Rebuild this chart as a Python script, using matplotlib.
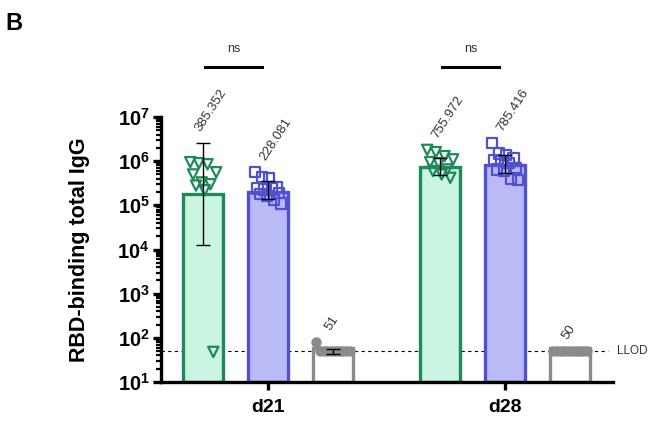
import numpy as np
import matplotlib
matplotlib.use("Agg")
import matplotlib.pyplot as plt
from matplotlib.ticker import LogLocator, FixedLocator, NullFormatter

plt.rcParams["font.family"] = ["Liberation Sans", "DejaVu Sans"]
plt.rcParams["mathtext.fontset"] = "custom"
plt.rcParams["mathtext.rm"] = "Liberation Sans"
plt.rcParams["mathtext.bf"] = "Liberation Sans:bold"

# data
days = ["d21", "d28"]
groups = ["green", "blue", "gray"]

bar_d21 = [1.8e5, 2.0e5, 50]
bar_d28 = [7.2e5, 8.1e5, 50]

err_lo_d21 = [1.26e4, 1.4e5, 44]
err_hi_d21 = [2.6e6, 3.5e5, 57]
err_lo_d28 = [4.8e5, 5.4e5, 50]
err_hi_d28 = [1.2e6, 1.4e6, 50]

green_d21 = [9.5e5, 9.0e5, 8.5e5, 5.6e5, 5.0e5, 3.3e5, 3.0e5, 2.8e5, 2.2e5, 48]
blue_d21 = [5.6e5, 4.4e5, 4.2e5, 2.6e5, 2.4e5, 2.3e5, 2.5e5, 1.9e5, 1.8e5, 1.6e5, 1.3e5, 1.1e5]
gray_d21 = [80, 50, 50, 50, 50, 50, 50, 50, 50, 50]
green_d28 = [1.8e6, 1.6e6, 1.3e6, 1.1e6, 9.5e5, 9.0e5, 6.5e5, 6.0e5, 5.0e5, 4.2e5]
blue_d28 = [2.6e6, 1.5e6, 1.4e6, 1.2e6, 1.05e6, 1.0e6, 9.0e5, 7.0e5, 6.5e5, 6.0e5, 4.0e5, 3.7e5]
gray_d28 = [50, 50, 50, 50, 50, 50, 50, 50, 50, 50]

labels_d21 = ["385.352", "228.081", "51"]
labels_d28 = ["755.972", "785.416", "50"]

llod = 50

# styles
edge = {"green": "#1e8a5c", "blue": "#5050d0", "gray": "#8a8a8a"}
fill = {"green": "#c9f5e2", "blue": "#b9baf6", "gray": "white"}
marker = {"green": "v", "blue": "s", "gray": "o"}

bar_w = 0.62
group_gap = 3.65
offsets = [-1, 0, 1]

fig = plt.figure(figsize=(6.72, 4.34), dpi=100)
ax = fig.add_axes([0.2396, 0.1198, 0.912 - 0.2396, 0.7304 - 0.1198])
ax.set_yscale("log")
ax.set_ylim(10, 1e7)
ax.set_xlim(-1.65, 5.31)

ax.axhline(llod, xmin=0, xmax=0.99, color="black", ls=(0, (3, 3)), lw=0.8, zorder=1)
ax.text(5.37, llod, "LLOD", fontsize=8.5, va="center", ha="left", color="#333333")

all_points = [[green_d21, blue_d21, gray_d21], [green_d28, blue_d28, gray_d28]]
all_bars = [bar_d21, bar_d28]
all_lo = [err_lo_d21, err_lo_d28]
all_hi = [err_hi_d21, err_hi_d28]
all_labels = [labels_d21, labels_d28]

for d in range(len(days)):
    base = d * group_gap
    for g, name in enumerate(groups):
        x = base + offsets[g]
        h = all_bars[d][g]
        ax.bar(x, h, width=bar_w, bottom=10, color=fill[name], edgecolor=edge[name],
               linewidth=2.4, zorder=2)
        pts = all_points[d][g]
        n = len(pts)
        half = 0.26 if name == "gray" else 0.2
        spread = np.linspace(-half, half, n)
        order = np.argsort(np.arange(n) % 3, kind="stable")
        xs = x + spread[order]
        if name == "gray":
            ax.scatter(xs, pts, s=42, marker="o", color=edge[name], zorder=3)
        else:
            ax.scatter(xs, pts, s=55, marker=marker[name], facecolors="none",
                       edgecolors=edge[name], linewidths=1.6, zorder=3)
        lo, hi = all_lo[d][g], all_hi[d][g]
        if hi > lo:
            ax.errorbar(x, h, yerr=[[h - lo], [hi - h]], fmt="none", ecolor="black",
                        elinewidth=1.0, capsize=5, capthick=1.0, zorder=4)
        top = max(max(pts), hi)
        ax.annotate(all_labels[d][g], (x, top), xytext=(-4, 9), textcoords="offset points",
                    rotation=57, rotation_mode="anchor", ha="left", va="center",
                    fontsize=9.5, color="#333333", annotation_clip=False)

    # significance bar
    ax.plot([base - 0.97, base - 0.1], [1.19, 1.19], transform=ax.get_xaxis_transform(),
            color="black", lw=2.2, clip_on=False)
    ax.text(base - 0.53, 1.235, "ns", transform=ax.get_xaxis_transform(),
            ha="center", va="bottom", fontsize=9, color="#333333")

ax.spines["top"].set_visible(False)
ax.spines["right"].set_visible(False)
ax.spines["left"].set_linewidth(2.4)
ax.spines["bottom"].set_linewidth(2.4)

ax.yaxis.set_major_locator(FixedLocator([10 ** k for k in range(1, 8)]))
ax.yaxis.set_minor_locator(LogLocator(base=10, subs=np.arange(2, 10)))
ax.yaxis.set_minor_formatter(NullFormatter())
ax.set_yticklabels([r"$\mathbf{10^{%d}}$" % k for k in range(1, 8)], fontsize=14.5)
ax.tick_params(axis="y", which="major", length=6, width=2.4, pad=2)
ax.tick_params(axis="y", which="minor", length=3.5, width=1.6)

ax.set_xticks([d * group_gap for d in range(len(days))])
ax.set_xticklabels(days, fontsize=14, fontweight="bold")
ax.tick_params(axis="x", length=6, width=2.4, pad=6)

ax.set_ylabel("RBD-binding total IgG", fontsize=15.5, fontweight="bold", labelpad=20)

fig.text(0.008, 0.945, "B", fontsize=17, fontweight="bold", ha="left", va="center")

fig.savefig("out.png", dpi=100)
